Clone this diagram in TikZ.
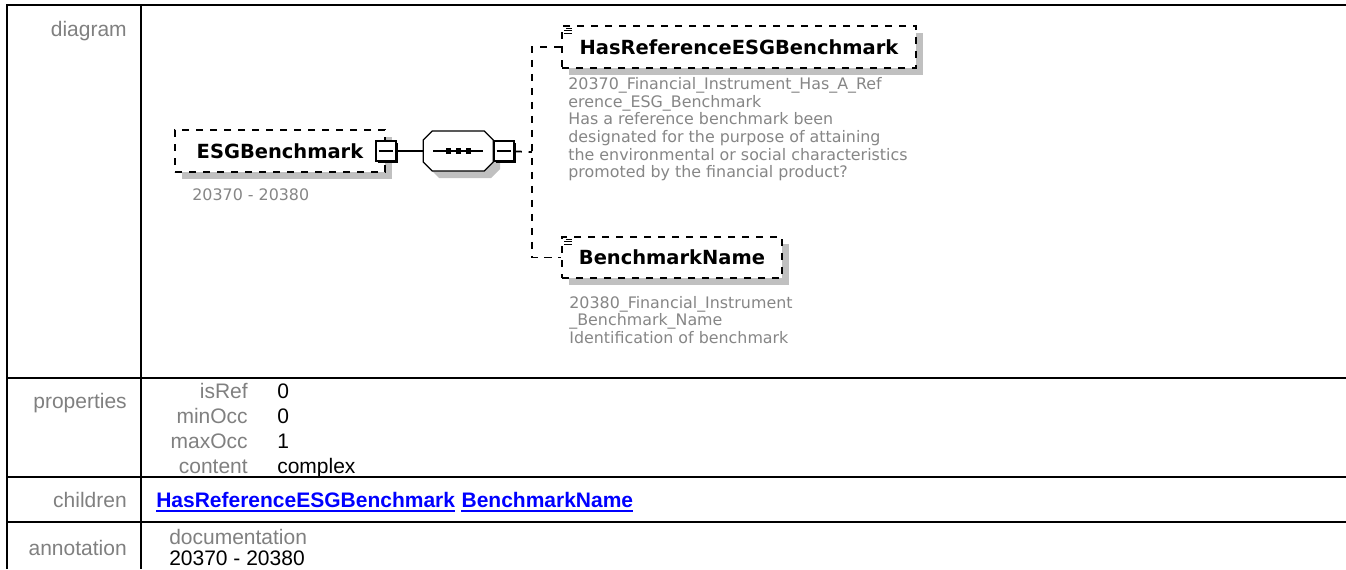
\documentclass[tikz,border=0pt]{standalone}
\usepackage{fontspec}
\setmainfont{Liberation Sans}
\newfontfamily\diafont{DejaVu Sans}
\usetikzlibrary{positioning,shadows}
\definecolor{lblgray}{HTML}{808080}
\definecolor{docgray}{HTML}{868686}
\definecolor{shade}{HTML}{C0C0C0}
\definecolor{linkblue}{HTML}{0000FF}

\begin{document}
\begin{tikzpicture}[
  x=0.75pt,y=-0.75pt,
  tbl/.style={line width=1.5pt},
  lbl/.style={font=\fontsize{15.75}{18}\selectfont,text=lblgray,inner sep=0pt,anchor=base east},
  val/.style={font=\fontsize{15.75}{18}\selectfont,inner sep=0pt,anchor=base west},
  lnk/.style={font=\fontsize{15.75}{18}\selectfont\bfseries,text=linkblue,inner sep=0pt},
  ulink/.style={draw=linkblue,line width=1.5pt},
  elem/.style={draw,dash pattern=on 5.5pt off 5pt,line width=1.3pt,fill=white,minimum height=31.5pt,inner sep=0pt,
    font=\diafont\fontsize{14.6}{16}\selectfont\bfseries,
    general shadow={fill=shade,shadow xshift=5.25pt,shadow yshift=-5.25pt}},
  doc/.style={font=\diafont\fontsize{11.9}{13.2}\selectfont,text=docgray,inner sep=0pt,align=left},
  minus/.style={draw,fill=white,line width=1pt,minimum size=15pt,inner sep=0pt,
    general shadow={fill=black,shadow xshift=1.5pt,shadow yshift=-1.5pt},
    path picture={\draw[line width=1pt] ([xshift=-5.5pt]path picture bounding box.center) -- ([xshift=5.5pt]path picture bounding box.center);}},
  seqbox/.style={minimum width=52.5pt,minimum height=30pt,inner sep=0pt,outer sep=0pt},
  octo/.style={draw,line width=1pt,fill=white,
    general shadow={fill=shade,shadow xshift=5.25pt,shadow yshift=-5.25pt}},
  conn/.style={line width=1pt},
  dconn/.style={line width=1.3pt,dash pattern=on 5.5pt off 5pt},
  icon/.style={line width=0.8pt},
]
\path[use as bounding box,fill=white] (0,0) rectangle (1346,569);

% table frame
\draw[tbl] (7,569) -- (7,5) -- (1346,5);
\draw[tbl] (141,5) -- (141,569);
\foreach \yy in {378,477,522}
  \draw[tbl] (7,\yy) -- (1346,\yy);

% row labels
\node[lbl] (lbldiagram) at (127,36) {diagram};
\node[lbl] (lblprops) at (127,408) {properties};
\node[lbl] (lblchildren) at (127,507) {children};
\node[lbl] (lblannot) at (127,555) {annotation};

% properties
\node[lbl] (keyisref) at (248,398) {isRef};
\node[val] (valisref) at (277,398) {0};
\node[lbl] (keyminocc) at (248,423) {minOcc};
\node[val] (valminocc) at (277,423) {0};
\node[lbl] (keymaxocc) at (248,448) {maxOcc};
\node[val] (valmaxocc) at (277,448) {1};
\node[lbl] (keycontent) at (248,473) {content};
\node[val] (valcontent) at (277,473) {complex};

% children
\node[lnk,anchor=base west] (lnkhasref) at (156,507) {HasReferenceESGBenchmark};
\node[lnk,right=4.5pt of lnkhasref] (lnkbname) {BenchmarkName};
\draw[ulink] ([yshift=-3.2pt]lnkhasref.base west) -- ([yshift=-3.2pt]lnkhasref.base east);
\draw[ulink] ([yshift=-3.2pt]lnkbname.base west) -- ([yshift=-3.2pt]lnkbname.base east);

% annotation
\node[val,text=lblgray] (docword) at (169,544) {documentation};
\node[val] (docrange) at (169,565) {20370 - 20380};

% diagram
\node[elem,minimum width=157.5pt] (esg) at (280,151) {ESGBenchmark};
\node[doc,below right=12pt and 13.5pt of esg.south west] (esgdoc) {20370 - 20380};
\node[minus] (esgminus) at (esg.east) {};
\node[seqbox,right=20pt of esgminus] (seq) {};
\draw[octo] ([yshift=8.25pt]seq.west) -- ([xshift=6.75pt]seq.north west) -- ([xshift=-6.75pt]seq.north east)
  -- ([yshift=8.25pt]seq.east) -- ([yshift=-8.25pt]seq.east) -- ([xshift=-6.75pt]seq.south east)
  -- ([xshift=6.75pt]seq.south west) -- ([yshift=-8.25pt]seq.west) -- cycle;
\node[minus,anchor=west] (seqminus) at (seq.east) {};
\draw[conn] (seq.center) +(-18.75pt,0pt) -- +(18.75pt,0pt);
\foreach \d in {-7.5,0,7.5}
  \fill ([xshift=\d pt]seq.center) ++(-1.9pt,-1.9pt) rectangle ++(3.8pt,3.8pt);
\draw[conn] (esgminus) -- (seq);

\node[elem,minimum width=265.5pt] (hasref) at (739,47) {HasReferenceESGBenchmark};
\node[doc,below right=6.4pt and 5.25pt of hasref.south west] (hasrefdoc)
  {20370\_Financial\_Instrument\_Has\_A\_Ref\\erence\_ESG\_Benchmark\\Has a reference benchmark been\\designated for the purpose of attaining\\the environmental or social characteristics\\promoted by the financial product?};
\node[elem,minimum width=165pt,minimum height=30.75pt] (bname) at (672,257.5) {BenchmarkName};
\node[doc,below right=12.75pt and 6pt of bname.south west] (bnamedoc)
  {20380\_Financial\_Instrument\\\_Benchmark\_Name\\Identification of benchmark};

\foreach \b in {hasref,bname} {
  \draw[icon] ([shift={(3.75pt,-2.25pt)}]\b.north west) -- ++(4.5pt,0pt);
  \draw[icon] ([shift={(2.25pt,-4.1pt)}]\b.north west) -- ++(6pt,0pt);
  \draw[icon] ([shift={(2.25pt,-6pt)}]\b.north west) -- ++(6pt,0pt);
}

\coordinate (fork) at (532,152);
\draw[dconn] (seqminus) -- (fork);
\draw[dconn] (hasref.west) -| (fork) |- (bname.west);
\end{tikzpicture}
\end{document}
